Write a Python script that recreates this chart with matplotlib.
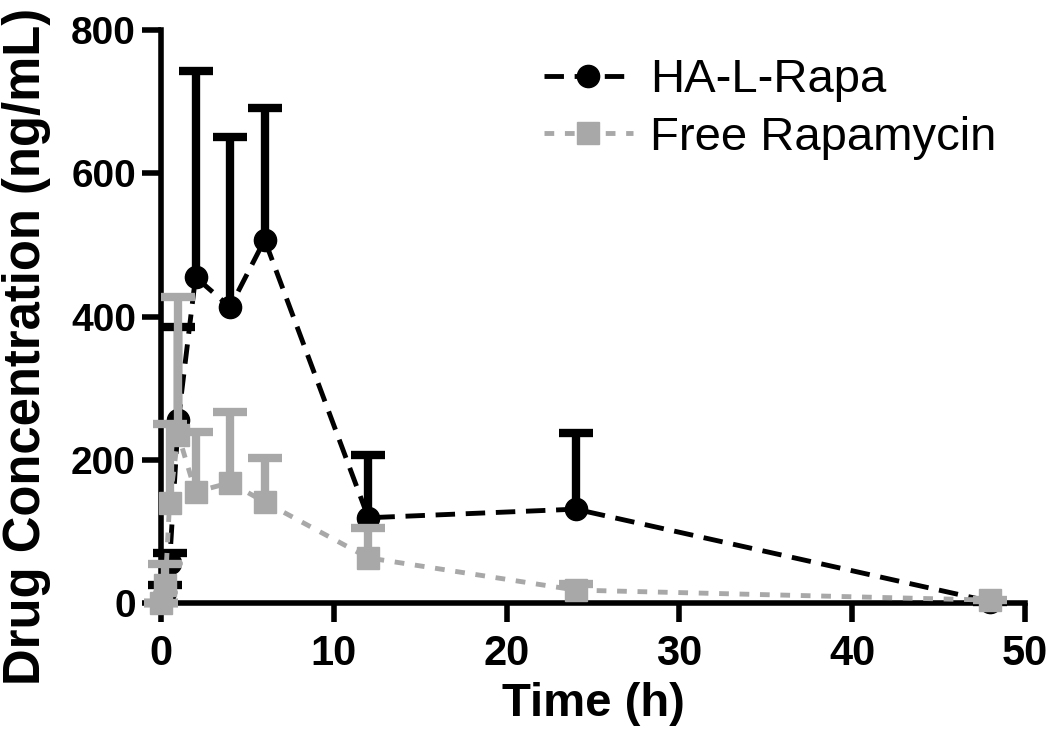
import numpy as np
import matplotlib
matplotlib.use("Agg")
import matplotlib.pyplot as plt
from matplotlib import font_manager

# ---- data ----
time_ha = [0, 0.25, 0.5, 1, 2, 4, 6, 12, 24, 48]
conc_ha = [0, 15, 56, 255, 455, 413, 507, 119, 131, 2]
err_ha = [0, 10, 14, 130, 288, 238, 184, 88, 106, 0]

time_free = [0, 0.25, 0.5, 1, 2, 4, 6, 12, 24, 48]
conc_free = [0, 25, 140, 235, 155, 168, 141, 63, 18, 4]
err_free = [0, 30, 110, 192, 84, 99, 61, 42, 8, 0]

xticks = [0, 10, 20, 30, 40, 50]
yticks = [0, 200, 400, 600, 800]

label_ha = "HA-L-Rapa"
label_free = "Free Rapamycin"
xlabel = "Time (h)"
ylabel = "Drug Concentration (ng/mL)"

names = {f.name for f in font_manager.fontManager.ttflist}
base = "Liberation Sans" if "Liberation Sans" in names else "DejaVu Sans"

grey = "#a8a8a8"

fig = plt.figure(figsize=(10.5, 7.47), dpi=100)
ax = fig.add_axes([0.1533, 0.1928, 0.8229, 0.767])


def upper_errorbar(x, y, err, color, z):
    zeros = np.zeros(len(err))
    _, caps, _ = ax.errorbar(x, y, yerr=[zeros, err], fmt="none", ecolor=color,
                             elinewidth=6, capsize=12, capthick=6, zorder=z,
                             clip_on=False)
    # hide the lower caps (one-sided error bars)
    if len(caps) >= 2:
        caps[0].set_visible(False)


upper_errorbar(time_ha, conc_ha, err_ha, "black", 2)
ax.plot(time_ha, conc_ha, color="black", lw=3.5, ls=(0, (4, 2.2)),
        marker="o", ms=16, mfc="black", mec="black", zorder=3, clip_on=False,
        label=label_ha)

upper_errorbar(time_free, conc_free, err_free, grey, 4)
ax.plot(time_free, conc_free, color=grey, lw=3.5, ls=(0, (2, 2.2)),
        marker="s", ms=16, mfc=grey, mec=grey, zorder=5, clip_on=False,
        label=label_free)

ax.set_xlim(0, 50)
ax.set_ylim(0, 800)
ax.set_xticks(xticks)
ax.set_yticks(yticks)
for s in ["top", "right"]:
    ax.spines[s].set_visible(False)
for s in ["left", "bottom"]:
    ax.spines[s].set_linewidth(4)
ax.tick_params(axis="both", width=4, length=14, direction="out")
ax.tick_params(axis="x", pad=8)
ax.tick_params(axis="y", pad=4)

for lab in ax.get_xticklabels():
    lab.set_fontfamily(base)
    lab.set_fontweight("bold")
    lab.set_fontsize(30)
for lab in ax.get_yticklabels():
    lab.set_fontfamily(base)
    lab.set_fontweight("bold")
    lab.set_fontsize(28)

ax.set_xlabel(xlabel, fontfamily=base, fontweight="bold", fontsize=34, labelpad=6)
ax.set_ylabel(ylabel, fontfamily=base, fontweight="bold", fontsize=36.5)
ax.yaxis.set_label_coords(-0.127, 0.447)

leg = ax.legend(loc="upper left", bbox_to_anchor=(0.41, 1.0), frameon=False,
                prop={"family": base, "size": 34}, handlelength=1.9,
                handletextpad=0.35, labelspacing=0.28, markerscale=1.0,
                borderaxespad=0.2)

fig.savefig("out.png", dpi=100)
